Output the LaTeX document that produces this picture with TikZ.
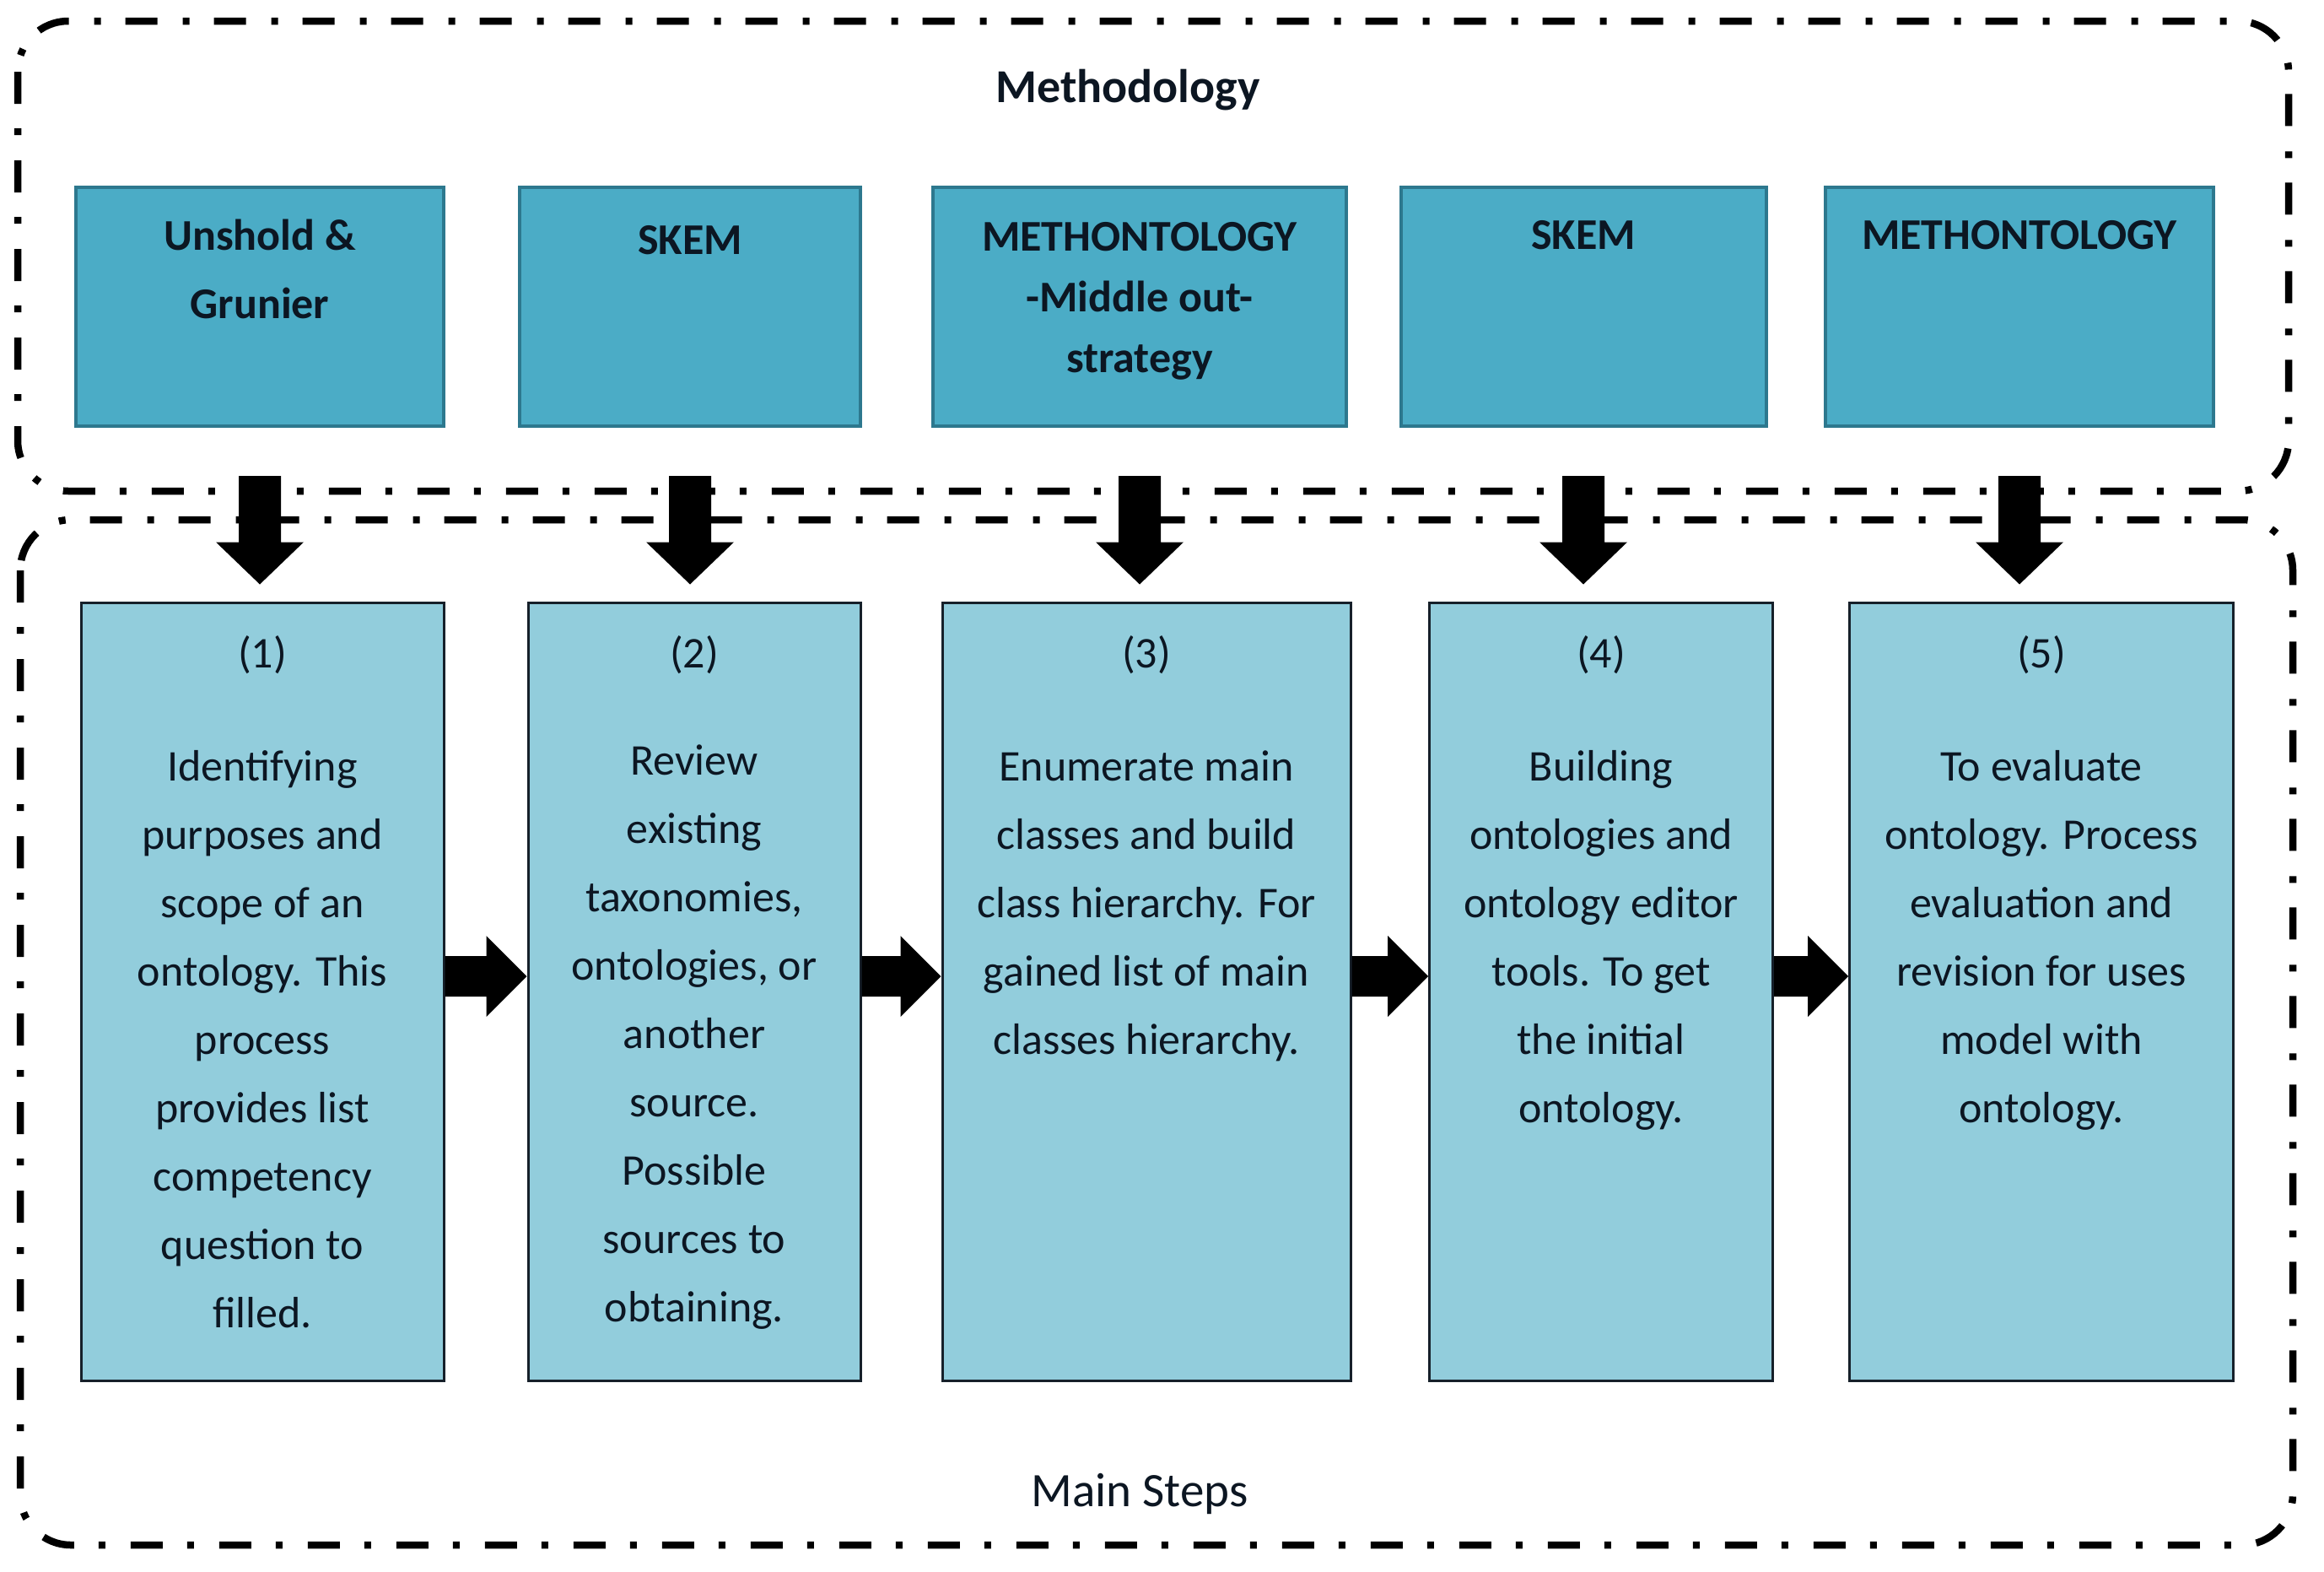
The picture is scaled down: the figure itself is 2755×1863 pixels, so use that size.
\documentclass[tikz,border=0pt]{standalone}
\usepackage{fontspec}
\setmainfont{Carlito}
\usetikzlibrary{calc}
\definecolor{topfill}{RGB}{75,172,198}
\definecolor{topdraw}{RGB}{45,120,142}
\definecolor{botfill}{RGB}{146,205,220}
\definecolor{botdraw}{RGB}{22,32,42}
\definecolor{txt}{RGB}{12,22,34}
\newcommand{\downarr}[2]{%
  \fill[black] ($(#1.south)+(-25,57)$) -- ($(#1.south)+(25,57)$)
    -- ($(#1.south |- #2.north)+(25,-70)$) -- ($(#1.south |- #2.north)+(52,-70)$)
    -- ($(#1.south |- #2.north)+(0,-20)$) -- ($(#1.south |- #2.north)+(-52,-70)$)
    -- ($(#1.south |- #2.north)+(-25,-70)$) -- cycle;}
\newcommand{\rightarr}[2]{%
  \fill[black] ($(#1.east)+(0,-42)$) -- ($(#2.west)+(-48,-42)$)
    -- ($(#2.west)+(-48,-66)$) -- ($(#2.west)+(0,-18)$)
    -- ($(#2.west)+(-48,30)$) -- ($(#2.west)+(-48,6)$)
    -- ($(#1.east)+(0,6)$) -- cycle;}
\begin{document}
\begin{tikzpicture}[x=1pt,y=-1pt,
  frame/.style={line width=8.5pt, dash pattern=on 38pt off 29pt on 8pt off 30pt, rounded corners=60pt},
  topbox/.style={draw=topdraw, fill=topfill, line width=4pt, inner sep=0pt, minimum height=283pt},
  botbox/.style={draw=botdraw, fill=botfill, line width=3pt, inner sep=0pt, minimum height=922pt},
  toptext/.style={align=center, inner sep=0pt, text=txt, font=\fontsize{52}{81}\selectfont\bfseries},
  bottext/.style={align=center, inner sep=0pt, text=txt, font=\fontsize{52}{81}\selectfont},
  title/.style={inner sep=0pt, text=txt, anchor=base}
]
\useasboundingbox (0,0) rectangle (2755,1863);
% frames
\draw[frame] (21,25) rectangle (2713,582);
\draw[frame] (24,616) rectangle (2718,1831);
\node[title, font=\fontsize{56}{60}\selectfont\bfseries] (meth) at (1337,121) {Methodology};
\node[title, font=\fontsize{57}{60}\selectfont] (steps) at (1351,1785) {Main Steps};
% top boxes
\node[topbox, minimum width=436pt] (t1) at (308,363.5) {};
\node[topbox, minimum width=404pt] (t2) at (818,363.5) {};
\node[topbox, minimum width=490pt] (t3) at (1351,363.5) {};
\node[topbox, minimum width=433pt] (t4) at (1877,363.5) {};
\node[topbox, minimum width=460pt] (t5) at (2394,363.5) {};
\node[toptext, anchor=north] (t1txt) at ($(t1.north)+(0,20)$) {\strut Unshold \&\\Grunier};
\node[toptext, anchor=base] (t2txt) at ($(t2.north)+(0,81)$) {SKEM};
\node[toptext, anchor=north, font=\fontsize{52}{72}\selectfont\bfseries] (t3txt) at ($(t3.north)+(0,27)$) {\strut METHONTOLOGY\\-Middle out-\\strategy};
\node[toptext, anchor=base] (t4txt) at ($(t4.north)+(0,75)$) {SKEM};
\node[toptext, anchor=base] (t5txt) at ($(t5.north)+(0,75)$) {METHONTOLOGY};
% bottom boxes
\node[botbox, minimum width=430pt] (b1) at (311,1175) {};
\node[botbox, minimum width=394pt] (b2) at (823,1175) {};
\node[botbox, minimum width=484pt] (b3) at (1359,1175) {};
\node[botbox, minimum width=407pt] (b4) at (1898,1175) {};
\node[botbox, minimum width=455pt] (b5) at (2420,1175) {};
\foreach \b/\n in {b1/1,b2/2,b3/3,b4/4,b5/5}{
  \node[bottext, anchor=base] (\b num) at ($(\b.north)+(0,79)$) {(\n)};
}
\node[bottext, anchor=north] (b1txt) at ($(b1.north)+(0,156)$) {\strut Identifying\\purposes and\\scope of an\\ontology. This\\process\\provides list\\competency\\question to\\filled.};
\node[bottext, anchor=north] (b2txt) at ($(b2.north)+(0,149)$) {\strut Review\\existing\\taxonomies,\\ontologies, or\\another\\source.\\Possible\\sources to\\obtaining.};
\node[bottext, anchor=north] (b3txt) at ($(b3.north)+(0,156)$) {\strut Enumerate main\\classes and build\\class hierarchy. For\\gained list of main\\classes hierarchy.};
\node[bottext, anchor=north] (b4txt) at ($(b4.north)+(0,156)$) {\strut Building\\ontologies and\\ontology editor\\tools. To get\\the initial\\ontology.};
\node[bottext, anchor=north] (b5txt) at ($(b5.north)+(0,156)$) {\strut To evaluate\\ontology. Process\\evaluation and\\revision for uses\\model with\\ontology.};
% arrows
\downarr{t1}{b1}
\downarr{t2}{b2}
\downarr{t3}{b3}
\downarr{t4}{b4}
\downarr{t5}{b5}
\rightarr{b1}{b2}
\rightarr{b2}{b3}
\rightarr{b3}{b4}
\rightarr{b4}{b5}
\end{tikzpicture}
\end{document}
